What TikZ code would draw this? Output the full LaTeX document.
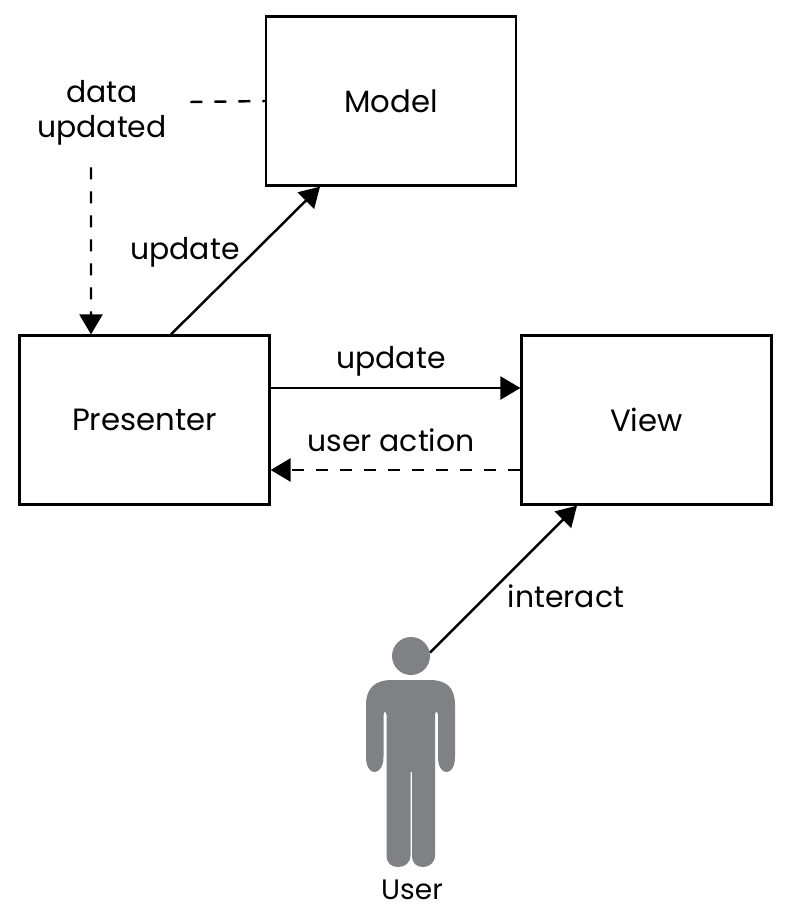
\documentclass[tikz,border=0pt]{standalone}
\usepackage{fontspec}
\setmainfont{Poppins}
\usetikzlibrary{arrows.meta}
\definecolor{usergray}{HTML}{808184}
\tikzset{
    block/.style={draw,line width=1.3pt,minimum width=5cm,minimum height=3.38cm,font=\fontsize{17.5}{20}\selectfont},
    label/.style={font=\fontsize{17}{20}\selectfont,inner sep=0pt},
    conn/.style={line width=1.4pt,-{Triangle[length=0.4cm,width=0.46cm]}},
    dashconn/.style={conn,dash pattern=on 0.24cm off 0.24cm},
}
\begin{document}
\begin{tikzpicture}[x=0.02cm,y=-0.02cm]
    \def\userpath{(366,705) .. controls (366,688) and (375,680) .. (392,680) -- (430,680)
        .. controls (447,680) and (455,688) .. (455,705) -- (455,757)
        .. controls (455,767) and (451,772) .. (446.5,772) .. controls (442,772) and (438,767) .. (438,757)
        -- (438,715) .. controls (438,711) and (435,711) .. (435,715) -- (435,855)
        .. controls (435,863) and (429,867) .. (423,867) .. controls (416,867) and (412,863) .. (412,855)
        -- (412,772) -- (410.5,772) -- (410.5,855)
        .. controls (410.5,863) and (405,867) .. (398,867) .. controls (391,867) and (386.5,863) .. (386.5,855)
        -- (386.5,715) .. controls (386.5,711) and (383.5,711) .. (383.5,715) -- (383.5,757)
        .. controls (383.5,767) and (379,772) .. (374.5,772) .. controls (370,772) and (366,767) .. (366,757) -- cycle}
    \useasboundingbox (0,0) rectangle (789,913);
    \node [block] (model) at (391,101) {Model};
    \node [block] (presenter) at (144.5,420) {Presenter};
    \node [block] (view) at (646.5,420) {View};
    \node [label,align=center,minimum width=3.52cm,minimum height=2.16cm] (data) at (102,113) {data\\updated};
    \node [circle,fill=usergray,inner sep=0pt,minimum size=0.76cm] (head) at (411,656) {};
    \fill [usergray]\userpath;
    \node [label,font=\fontsize{16}{20}\selectfont] (user) at (412,890) {User};
    % arrows
    \draw [line width=1.4pt,dash pattern=on 0.24cm off 0.24cm] ([yshift=0.22cm]data.east) -- (model.west);
    \draw [dashconn] ([xshift=-0.22cm]data.south) -- ([xshift=-1.07cm]presenter.north);
    \draw [conn] ([xshift=0.53cm]presenter.north) -- ([xshift=-1.42cm]model.south);
    \draw [conn] ([yshift=0.64cm]presenter.east) -- ([yshift=0.64cm]view.west);
    \draw [dashconn] ([yshift=-1cm]view.west) -- ([yshift=-1cm]presenter.east);
    \draw [conn] (head.10) -- ([xshift=-1.39cm]view.south);
    \node [label] (updatemodel) at (185,252) {update};
    \node [label] (updateview) at (391,361) {update};
    \node [label] (action) at (391,440) {user action};
    \node [label] (interact) at (566,596) {interact};
\end{tikzpicture}
\end{document}
